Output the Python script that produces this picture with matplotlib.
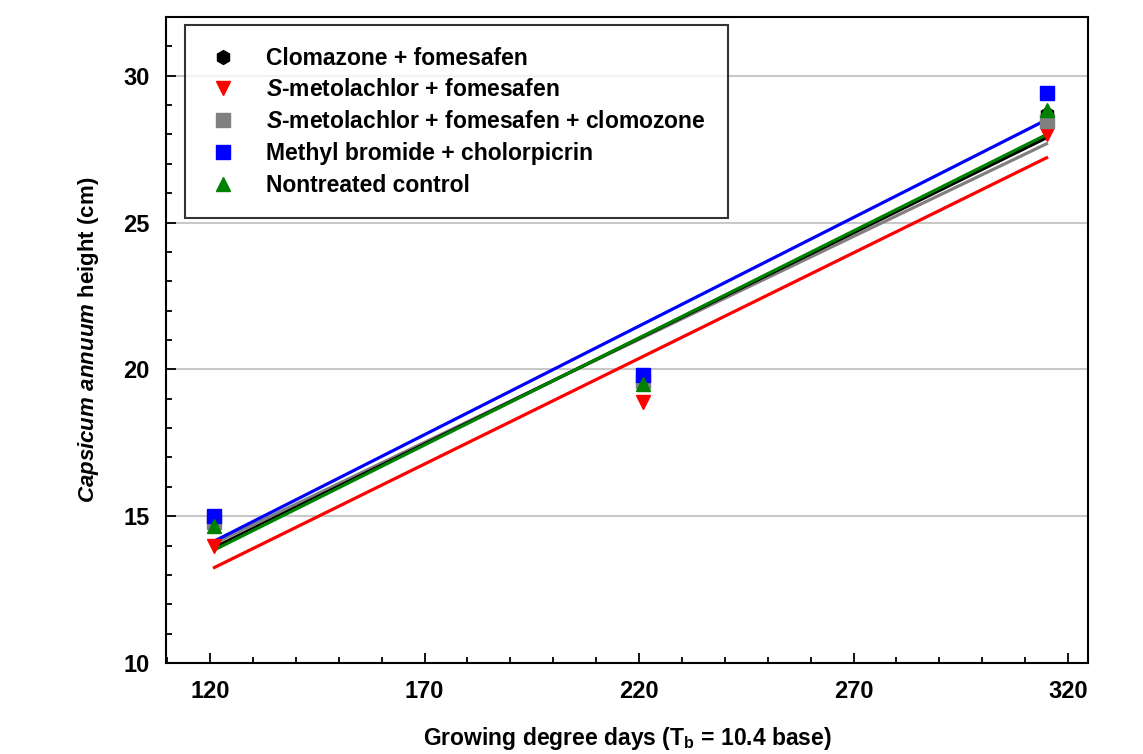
import numpy as np
import matplotlib
matplotlib.use('Agg')
from matplotlib import pyplot as plt
from matplotlib.ticker import MultipleLocator

plt.rcParams['font.family'] = ['Liberation Sans', 'DejaVu Sans']
plt.rcParams['font.weight'] = 'bold'
plt.rcParams['mathtext.fontset'] = 'custom'
plt.rcParams['mathtext.it'] = 'Liberation Sans:italic:bold'
plt.rcParams['mathtext.rm'] = 'Liberation Sans:bold'

# growing degree days at each sampling
gdd = [121, 221, 315]

# plant height (cm) per treatment
clomazone_fomesafen = [14.7, 19.55, 28.7]
smeto_fomesafen = [14.0, 18.9, 28.0]
smeto_fomesafen_clomazone = [14.8, 19.6, 28.45]
methyl_bromide = [15.0, 19.8, 29.4]
nontreated = [14.65, 19.5, 28.84]

labels = ['Clomazone + fomesafen',
          '$S$-metolachlor + fomesafen',
          '$S$-metolachlor + fomesafen + clomozone',
          'Methyl bromide + cholorpicrin',
          'Nontreated control']
colors = ['black', '#ff0000', '#808080', '#0000ff', '#008000']
markers = ['h', 'v', 's', 's', '^']
sizes = [10, 10, 10, 10, 10]
series = [clomazone_fomesafen, smeto_fomesafen, smeto_fomesafen_clomazone,
          methyl_bromide, nontreated]

fig = plt.figure(figsize=(11.43, 7.54), dpi=100)
ax = fig.add_axes([0.1452, 0.1207, 0.8068, 0.8568])

x = np.array(gdd, dtype=float)
xs = np.array([x.min(), x.max()])
# fitted regression lines
line_order = [1, 2, 0, 4, 3]
for i in line_order:
    k, b = np.polyfit(x, series[i], 1)
    ax.plot(xs, k * xs + b, color=colors[i], linewidth=2.3, zorder=3)

for i, yv in enumerate(series):
    ax.plot(gdd, yv, linestyle='none', marker=markers[i], color=colors[i],
            markersize=sizes[i], label=labels[i], zorder=4)

ax.set_xlim(109.7, 324.7)
ax.set_ylim(10, 32)
ax.xaxis.set_minor_locator(MultipleLocator(10))
ax.yaxis.set_major_locator(MultipleLocator(5))
ax.yaxis.set_minor_locator(MultipleLocator(1))
ax.set_xticks([120, 170, 220, 270, 320])
ax.tick_params(which='both', direction='in', labelsize=17, width=1.3)
ax.tick_params(which='major', length=7, pad=12)
ax.tick_params(which='minor', length=4)
ax.grid(True, axis='y', which='major', color='#c8c8c8', linewidth=1.5)
ax.set_axisbelow(True)
for s in ax.spines.values():
    s.set_linewidth(1.5)

ax.set_xlabel('Growing degree days (T$_\\mathrm{b}$ = 10.4 base)', fontsize=16.5,
              fontweight='bold', labelpad=16)
ax.set_ylabel('$Capsicum\\ annuum$ height (cm)', fontsize=16,
              fontweight='bold', labelpad=16)

leg = ax.legend(loc='upper left', bbox_to_anchor=(0.0206, 0.9876),
                borderaxespad=0, fontsize=16.5, frameon=True, fancybox=False,
                edgecolor='black', handlelength=1.45, handletextpad=1.15,
                borderpad=0.95, labelspacing=0.38)
leg.get_frame().set_linewidth(1.5)

plt.savefig('out.png', dpi=100)
